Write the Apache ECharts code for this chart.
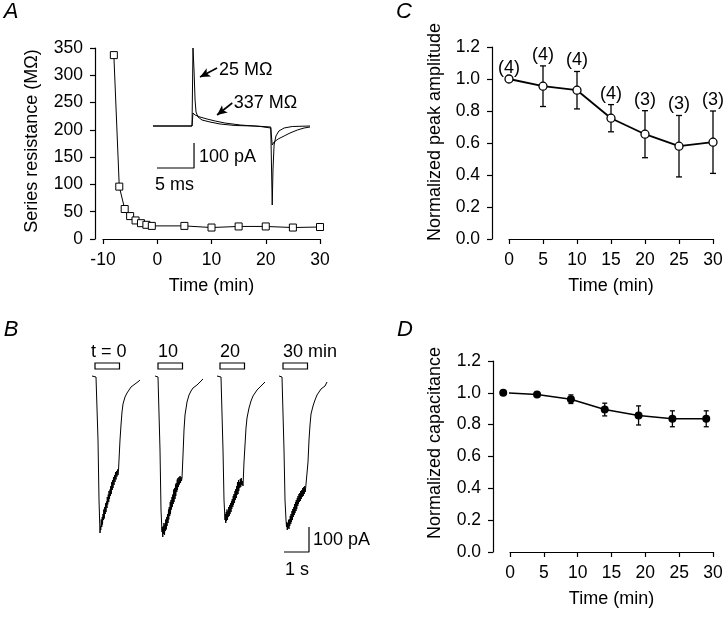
<!DOCTYPE html>
<html><head><meta charset="utf-8">
<script src="https://cdn.jsdelivr.net/npm/echarts@6/dist/echarts.min.js"></script>
<style>html,body{margin:0;padding:0;background:#fff}#c{width:728px;height:617px}</style>
</head><body><div id="c"></div>
<script>
// ---------- Panel A: series resistance ----------
const aTime = [-8, -7, -6, -5, -4, -3, -2, -1, 5, 10, 15, 20, 25, 30];
const aRs   = [337, 96, 55, 42, 34, 29, 26, 24, 24, 21, 23, 23, 21, 22];
// inset current traces: [time (ms), current (pA)]
const inset25 = [[0,0],[5.27,0],[5.4,312],[5.54,224],[5.68,104],[5.81,56],[6.08,36],[6.62,24],[7.7,16],[9.05,8],[11.1,2],[13.8,0],[15.9,-4],[16.1,-316],[16.2,-176],[16.35,-76],[16.6,-40],[17.0,-20],[17.7,-8],[18.8,-2],[21.2,0]];
const inset337 = [[0,0],[5.27,0],[5.4,52],[5.68,44],[6.35,36],[7.3,28],[8.4,20],[9.7,12],[11.8,4],[14.5,-2],[15.9,-8],[16.1,-76],[16.35,-64],[16.9,-52],[17.7,-40],[18.5,-28],[19.5,-16],[20.4,-8],[21.2,-4]];
const insetLabels = ['25 MΩ', '337 MΩ'];
const insetLabelAt = [[8.9, 224], [10.9, 92]];

// ---------- Panel B: current traces [time from onset (s), current (pA)] ----------
const bTrace0 = [[-0.2,4],[-0.04,0],[0,-4],[0.04,-252],[0.08,-492],[0.12,-624],[0.14,-596],[0.15,-612],[0.17,-570],[0.19,-600],[0.21,-560],[0.22,-590],[0.24,-548],[0.26,-572],[0.27,-530],[0.29,-566],[0.31,-520],[0.33,-548],[0.34,-505],[0.36,-540],[0.38,-498],[0.4,-524],[0.41,-480],[0.43,-510],[0.45,-470],[0.47,-500],[0.48,-456],[0.5,-488],[0.52,-450],[0.54,-476],[0.55,-436],[0.57,-468],[0.59,-420],[0.61,-452],[0.62,-412],[0.64,-444],[0.66,-400],[0.68,-432],[0.7,-392],[0.72,-420],[0.74,-380],[0.76,-410],[0.78,-376],[0.8,-398],[0.82,-370],[0.84,-392],[0.86,-372],[0.88,-332],[0.92,-252],[0.96,-192],[1.0,-140],[1.04,-108],[1.12,-80],[1.2,-64],[1.28,-56],[1.36,-40],[1.44,-48],[1.52,-28],[1.6,-36],[1.68,-16],[1.72,-12]];
const bTrace1 = [[-0.16,4],[-0.04,0],[0,-4],[0.04,-292],[0.08,-532],[0.12,-620],[0.13,-600],[0.15,-640],[0.17,-596],[0.18,-628],[0.2,-584],[0.22,-632],[0.24,-590],[0.25,-616],[0.27,-570],[0.29,-610],[0.31,-560],[0.32,-596],[0.34,-548],[0.36,-584],[0.38,-530],[0.39,-570],[0.41,-520],[0.43,-556],[0.45,-500],[0.46,-548],[0.48,-492],[0.5,-530],[0.52,-480],[0.53,-520],[0.55,-470],[0.57,-508],[0.59,-450],[0.6,-500],[0.62,-444],[0.64,-488],[0.66,-430],[0.67,-476],[0.69,-424],[0.71,-460],[0.73,-410],[0.74,-452],[0.76,-404],[0.78,-440],[0.8,-400],[0.82,-430],[0.84,-396],[0.86,-424],[0.88,-400],[0.9,-416],[0.92,-404],[0.96,-312],[1.0,-212],[1.04,-152],[1.12,-100],[1.2,-72],[1.28,-56],[1.36,-44],[1.44,-52],[1.52,-32],[1.6,-36],[1.68,-16],[1.76,-8]];
const bTrace2 = [[-0.2,4],[-0.04,0],[0,-4],[0.04,-292],[0.08,-492],[0.12,-572],[0.13,-548],[0.15,-584],[0.17,-540],[0.18,-576],[0.2,-530],[0.22,-572],[0.24,-536],[0.25,-560],[0.27,-520],[0.29,-556],[0.31,-512],[0.32,-548],[0.34,-504],[0.36,-540],[0.38,-496],[0.39,-528],[0.41,-488],[0.43,-520],[0.45,-476],[0.46,-512],[0.48,-468],[0.5,-504],[0.52,-456],[0.53,-492],[0.55,-448],[0.57,-484],[0.59,-436],[0.6,-472],[0.62,-420],[0.64,-468],[0.66,-412],[0.67,-456],[0.69,-420],[0.71,-444],[0.73,-408],[0.75,-440],[0.77,-404],[0.79,-432],[0.81,-416],[0.84,-436],[0.88,-340],[0.92,-272],[0.96,-204],[1.0,-164],[1.08,-124],[1.16,-96],[1.24,-76],[1.32,-68],[1.4,-52],[1.48,-56],[1.56,-36],[1.64,-28],[1.72,-20]];
const bTrace3 = [[-0.16,4],[-0.04,0],[0,-4],[0.04,-292],[0.08,-492],[0.12,-572],[0.14,-600],[0.15,-580],[0.17,-612],[0.19,-584],[0.2,-604],[0.22,-572],[0.24,-608],[0.25,-568],[0.27,-596],[0.29,-556],[0.31,-588],[0.32,-548],[0.34,-580],[0.36,-536],[0.38,-572],[0.39,-528],[0.41,-560],[0.43,-520],[0.45,-552],[0.46,-508],[0.48,-544],[0.5,-500],[0.52,-536],[0.53,-492],[0.55,-528],[0.57,-484],[0.59,-516],[0.6,-476],[0.62,-508],[0.64,-468],[0.66,-500],[0.67,-464],[0.69,-496],[0.71,-456],[0.73,-488],[0.75,-452],[0.77,-480],[0.79,-444],[0.81,-476],[0.83,-440],[0.85,-468],[0.87,-436],[0.89,-460],[0.91,-440],[0.94,-448],[0.96,-444],[1.0,-340],[1.04,-252],[1.08,-192],[1.12,-148],[1.2,-116],[1.28,-92],[1.36,-72],[1.44,-64],[1.52,-48],[1.6,-52],[1.68,-36],[1.76,-20]];
const bOnsets = [0.28, 2.76, 5.28, 7.72];
const bStimStart = [0.2, 2.72, 5.2, 7.72];
const bStimDur = 0.98;
const bLabels = ['t = 0', '10', '20', '30 min'];

// ---------- Panel C: normalized peak amplitude ----------
const cTime = [0, 5, 10, 15, 20, 25, 30];
const cMean = [1.0, 0.955, 0.93, 0.755, 0.655, 0.58, 0.605];
const cSem  = [0, 0.127, 0.117, 0.085, 0.147, 0.192, 0.195];
const cN    = [4, 4, 4, 4, 3, 3, 3];

// ---------- Panel D: normalized capacitance ----------
const dTime = [-1, 4, 9, 14, 19, 24, 29];
const dMean = [1.0, 0.99, 0.96, 0.895, 0.858, 0.837, 0.837];
const dSem  = [0, 0, 0.027, 0.04, 0.06, 0.05, 0.05];

// ---------------------------------------------------------------
const FF = "'Liberation Sans', Arial, Helvetica, sans-serif";
const TICK = 17.5, TXT = 18;
const black = '#000';

function valueAxis(extra) {
  return Object.assign({
    type: 'value',
    axisLine: { show: true, onZero: false, lineStyle: { color: black, width: 1.2 } },
    axisTick: { show: true, length: 5, lineStyle: { color: black, width: 1.2 } },
    axisLabel: { color: black, fontFamily: FF, fontSize: TICK, margin: 12 },
    splitLine: { show: false },
    nameTextStyle: { color: black, fontFamily: FF, fontSize: TXT }
  }, extra);
}
function hiddenAxis(extra) {
  return Object.assign({ type: 'value', show: false, splitLine: { show: false } }, extra);
}
function errRender(halfCap, lw) {
  return function (params, api) {
    const x = api.value(0), lo = api.value(1), hi = api.value(2);
    if (hi - lo <= 0) return null;
    const a = api.coord([x, lo]), b = api.coord([x, hi]);
    const st = { stroke: black, lineWidth: lw };
    return { type: 'group', children: [
      { type: 'line', shape: { x1: a[0], y1: a[1], x2: b[0], y2: b[1] }, style: st },
      { type: 'line', shape: { x1: a[0] - halfCap, y1: a[1], x2: a[0] + halfCap, y2: a[1] }, style: st },
      { type: 'line', shape: { x1: b[0] - halfCap, y1: b[1], x2: b[0] + halfCap, y2: b[1] }, style: st }
    ]};
  };
}
function textRender(names, dx, dy, align, vAlign) {
  return function (params, api) {
    const p = api.coord([api.value(0), api.value(1)]);
    return { type: 'text', x: p[0] + dx, y: p[1] + dy,
      style: { text: names[params.dataIndex], fill: black, font: TXT + 'px ' + FF, align: align, verticalAlign: vAlign } };
  };
}
const zip = (xs, ys) => xs.map((x, i) => [x, ys[i]]);
const bTraces = [bTrace0, bTrace1, bTrace2, bTrace3];

const grids = [
  { left: 103, top: 48, width: 217, height: 191 },   // 0 A
  { left: 153, top: 41, width: 157, height: 170 },   // 1 A inset
  { left: 90, top: 327, width: 250, height: 250 },   // 2 B
  { left: 509, top: 47, width: 204, height: 192 },   // 3 C
  { left: 510, top: 361, width: 203, height: 191 }   // 4 D
].map(g => Object.assign({ outerBoundsMode: 'none', containLabel: false }, g));

const xAxes = [
  valueAxis({ gridIndex: 0, min: -10, max: 30, interval: 10, name: 'Time (min)', nameLocation: 'middle', nameGap: 38 }),
  hiddenAxis({ gridIndex: 1, min: 0, max: 21.2 }),
  hiddenAxis({ gridIndex: 2, min: 0, max: 10 }),
  valueAxis({ gridIndex: 3, min: 0, max: 30, interval: 5, name: 'Time (min)', nameLocation: 'middle', nameGap: 38 }),
  valueAxis({ gridIndex: 4, min: 0, max: 30, interval: 5, name: 'Time (min)', nameLocation: 'middle', nameGap: 38 })
];
const fmt1 = v => v.toFixed(1);
const yAxes = [
  valueAxis({ gridIndex: 0, min: 0, max: 350, interval: 50, offset: 8 }),
  hiddenAxis({ gridIndex: 1, min: -340, max: 340 }),
  hiddenAxis({ gridIndex: 2, min: -800, max: 200 }),
  valueAxis({ gridIndex: 3, min: 0, max: 1.2, interval: 0.2, offset: 17, axisLabel: { color: black, fontFamily: FF, fontSize: TICK, margin: 12, formatter: fmt1 } }),
  valueAxis({ gridIndex: 4, min: 0, max: 1.2, interval: 0.2, offset: 17, axisLabel: { color: black, fontFamily: FF, fontSize: TICK, margin: 12, formatter: fmt1 } })
];

const series = [];
// A main
series.push({ type: 'line', xAxisIndex: 0, yAxisIndex: 0, data: zip(aTime, aRs),
  symbol: 'rect', symbolSize: 7, itemStyle: { color: '#fff', borderColor: black, borderWidth: 1 },
  lineStyle: { color: black, width: 1 }, z: 3 });
// A inset traces
series.push({ type: 'line', xAxisIndex: 1, yAxisIndex: 1, data: inset25, symbol: 'none', lineStyle: { color: black, width: 1 },
  markLine: { silent: true, symbol: ['none', 'arrow'], symbolSize: [7, 10], label: { show: false },
    lineStyle: { color: black, width: 1.6, type: 'solid' },
    data: [ [ { coord: [8.65, 232] }, { coord: [6.35, 196] } ], [ { coord: [10.7, 92] }, { coord: [8.65, 44] } ] ] } });
series.push({ type: 'line', xAxisIndex: 1, yAxisIndex: 1, data: inset337, symbol: 'none', lineStyle: { color: black, width: 1 } });
// inset scale bar (5 ms, 100 pA)
series.push({ type: 'line', xAxisIndex: 1, yAxisIndex: 1, data: [[0.54, -168], [5.54, -168], [5.54, -68]], symbol: 'none', lineStyle: { color: black, width: 1.2 } });
// inset annotation labels
series.push({ type: 'custom', xAxisIndex: 1, yAxisIndex: 1, silent: true,
  data: insetLabelAt, renderItem: textRender(insetLabels, 0, 0, 'left', 'middle') });

// B traces
bTraces.forEach((tr, k) => {
  series.push({ type: 'line', xAxisIndex: 2, yAxisIndex: 2, data: tr.map(([t, I]) => [t + bOnsets[k], I]),
    symbol: 'none', lineStyle: { color: black, width: 1 } });
});
// B stimulus bars and labels
series.push({ type: 'custom', xAxisIndex: 2, yAxisIndex: 2,
  data: bStimStart.map(s => [s, s + bStimDur]),
  renderItem: (params, api) => {
    const s = api.value(0), e = api.value(1);
    const p0 = api.coord([s, 56]), p1 = api.coord([e, 32]);
    const lab = api.coord([s, 100]);
    return { type: 'group', children: [
      { type: 'rect', shape: { x: p0[0], y: p0[1], width: p1[0] - p0[0], height: p1[1] - p0[1] }, style: { fill: '#fff', stroke: black, lineWidth: 1.2 } },
      { type: 'text', x: lab[0] - (params.dataIndex === 0 ? 4 : 0), y: lab[1], style: { text: bLabels[params.dataIndex], fill: black, font: TXT + 'px ' + FF, align: 'left', verticalAlign: 'middle' } }
    ]};
  } });
// B scale bar (1 s, 100 pA)
series.push({ type: 'line', xAxisIndex: 2, yAxisIndex: 2, data: [[7.76, -700], [8.76, -700], [8.76, -600]], symbol: 'none', lineStyle: { color: black, width: 1.2 } });

// C
series.push({ type: 'custom', xAxisIndex: 3, yAxisIndex: 3, z: 1,
  data: cTime.map((t, i) => [t, cMean[i] - cSem[i], cMean[i] + cSem[i]]),
  encode: { x: 0, y: [1, 2] }, renderItem: errRender(3, 1.3) });
series.push({ type: 'line', xAxisIndex: 3, yAxisIndex: 3, z: 3, data: zip(cTime, cMean),
  symbol: 'circle', symbolSize: 8, itemStyle: { color: '#fff', borderColor: black, borderWidth: 1.3 },
  lineStyle: { color: black, width: 1.8 } });
series.push({ type: 'custom', xAxisIndex: 3, yAxisIndex: 3, silent: true, z: 4,
  data: cTime.map((t, i) => [t, cMean[i] + cSem[i]]),
  renderItem: textRender(cN.map(n => '(' + n + ')'), 0, -2, 'center', 'bottom') });

// D
series.push({ type: 'custom', xAxisIndex: 4, yAxisIndex: 4, z: 1,
  data: dTime.map((t, i) => [t, dMean[i] - dSem[i], dMean[i] + dSem[i]]),
  encode: { x: 0, y: [1, 2] }, renderItem: errRender(2.5, 1.3) });
series.push({ type: 'line', xAxisIndex: 4, yAxisIndex: 4, z: 3, clip: false, data: zip(dTime, dMean),
  symbol: 'circle', symbolSize: 8, itemStyle: { color: black, borderColor: black, borderWidth: 0 },
  lineStyle: { color: black, width: 1.5 } });

function txt(x, y, text, opts) {
  return Object.assign({ type: 'text', x: x, y: y, silent: true,
    style: Object.assign({ text: text, fill: black, font: TXT + 'px ' + FF, align: 'left', verticalAlign: 'middle' }, (opts && opts.style) || {}) },
    opts && opts.rotation ? { rotation: opts.rotation } : {});
}
const graphic = [
  txt(11, 12, 'A', { style: { font: 'italic 22px ' + FF, align: 'center' } }),
  txt(11, 330, 'B', { style: { font: 'italic 22px ' + FF, align: 'center' } }),
  txt(404, 12, 'C', { style: { font: 'italic 22px ' + FF, align: 'center' } }),
  txt(405, 330, 'D', { style: { font: 'italic 22px ' + FF, align: 'center' } }),
  txt(32, 141, 'Series resistance (MΩ)', { rotation: Math.PI / 2, style: { align: 'center' } }),
  txt(435, 132, 'Normalized peak amplitude', { rotation: Math.PI / 2, style: { align: 'center' } }),
  txt(435, 443, 'Normalized capacitance', { rotation: Math.PI / 2, style: { align: 'center' } }),
  txt(199, 157, '100 pA'),
  txt(155, 185, '5 ms'),
  txt(313, 540, '100 pA'),
  txt(285, 570, '1 s')
];

const chart = echarts.init(document.getElementById('c'), null, { renderer: 'canvas' });
chart.setOption({
  backgroundColor: '#fff',
  animation: false,
  grid: grids,
  xAxis: xAxes,
  yAxis: yAxes,
  series: series,
  graphic: graphic
});
</script>
</body></html>
